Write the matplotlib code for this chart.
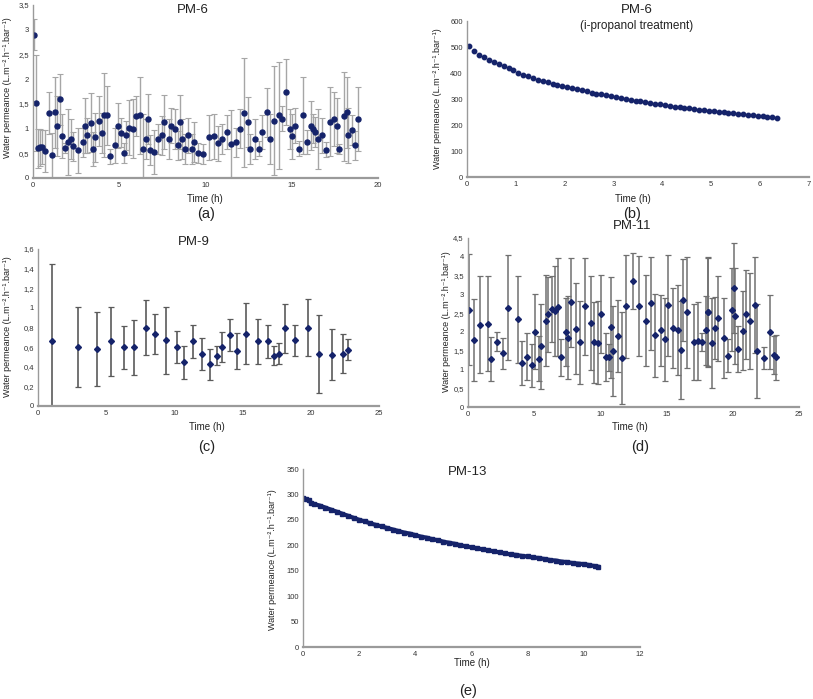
import matplotlib

matplotlib.use("Agg")
import matplotlib.pyplot as plt
from matplotlib.ticker import FuncFormatter, MultipleLocator

plt.rcParams["font.family"] = ["Liberation Sans", "DejaVu Sans"]

W, H = 813, 699
NAVY = "#15236a"
YLAB = "Water permeance (L.m\u207b\u00b2.h\u207b\u00b9.bar\u207b\u00b9)"

# (a) PM-6
a_t = [0.06, 0.17, 0.31, 0.43, 0.52, 0.72, 0.95, 1.12, 1.26, 1.39, 1.57, 1.66, 1.86, 2.03,
       2.22, 2.34, 2.61, 2.92, 3.03, 3.15, 3.34, 3.48, 3.59, 3.83, 4.0, 4.14, 4.29, 4.44,
       4.73, 4.95, 5.08, 5.26, 5.39, 5.58, 5.82, 5.99, 6.22, 6.36, 6.53, 6.67, 6.8, 7.0,
       7.23, 7.48, 7.59, 7.88, 8.02, 8.25, 8.39, 8.5, 8.66, 8.79, 8.97, 9.2, 9.35, 9.58,
       9.84, 10.2, 10.51, 10.74, 10.98, 11.23, 11.48, 11.75, 12.02, 12.23, 12.46, 12.6,
       12.87, 13.08, 13.29, 13.58, 13.76, 13.99, 14.26, 14.45, 14.65, 14.88, 15.03, 15.2,
       15.44, 15.63, 15.9, 16.12, 16.23, 16.35, 16.52, 16.77, 16.97, 17.22, 17.45, 17.64,
       17.72, 18.01, 18.18, 18.28, 18.51, 18.67, 18.86]
a_p = [2.9, 1.52, 0.6, 0.62, 0.63, 0.55, 1.32, 0.46, 1.33, 1.05, 1.59, 0.85, 0.61, 0.73,
       0.79, 0.64, 0.56, 0.72, 1.06, 0.86, 1.12, 0.59, 0.82, 1.15, 0.91, 1.27, 1.27, 0.44,
       0.66, 1.06, 0.92, 0.5, 0.86, 1.02, 1.0, 1.25, 1.27, 0.59, 0.79, 1.19, 0.57, 0.53,
       0.79, 0.86, 1.13, 0.79, 1.06, 0.99, 0.66, 1.13, 0.79, 0.59, 0.86, 0.59, 0.73, 0.5,
       0.48, 0.82, 0.84, 0.7, 0.79, 0.93, 0.69, 0.72, 1.0, 1.32, 1.13, 0.59, 0.79, 0.59,
       0.93, 1.33, 0.79, 1.16, 1.27, 1.2, 1.74, 0.99, 0.84, 1.06, 0.59, 1.27, 0.73, 1.06,
       1.0, 0.93, 0.79, 0.86, 0.57, 1.14, 1.2, 1.06, 0.59, 1.25, 1.33, 0.86, 0.97, 0.66, 1.2]
a_e = [0.32, 0.97, 0.39, 0.37, 0.35, 0.42, 0.42, 0.46, 0.72, 0.6, 0.52, 0.45, 0.1, 0.67,
       0.4, 0.3, 0.45, 0.3, 0.55, 0.35, 0.6, 0.35, 0.5, 0.5, 0.4, 0.85, 0.6, 0.15, 0.35,
       0.45, 0.3, 0.2, 0.3, 0.55, 0.6, 0.4, 0.78, 0.7, 0.4, 0.5, 0.3, 0.45, 0.3, 0.4, 0.55,
       0.4, 0.35, 0.4, 0.3, 0.55, 0.4, 0.3, 0.35, 0.3, 0.4, 0.2, 0.2, 0.45, 0.45, 0.35, 0.3,
       0.35, 0.68, 0.3, 0.4, 1.1, 0.5, 0.3, 0.4, 0.15, 0.35, 0.5, 0.5, 1.1, 1.08, 0.25,
       0.66, 0.4, 0.45, 0.35, 0.15, 0.78, 0.25, 0.5, 0.3, 0.3, 0.6, 0.35, 0.15, 0.7, 0.55,
       0.55, 0.1, 0.9, 0.72, 0.55, 0.3, 0.3, 0.65]

# (b) PM-6 after i-propanol treatment
b_t = [0.05, 0.15, 0.25, 0.35, 0.45, 0.55, 0.65, 0.75, 0.85, 0.95, 1.05, 1.15, 1.25, 1.35,
       1.45, 1.55, 1.65, 1.75, 1.85, 1.95, 2.05, 2.15, 2.25, 2.35, 2.45, 2.55, 2.65, 2.75,
       2.85, 2.95, 3.05, 3.15, 3.25, 3.35, 3.45, 3.55, 3.65, 3.75, 3.85, 3.95, 4.05, 4.15,
       4.25, 4.35, 4.45, 4.55, 4.65, 4.75, 4.85, 4.95, 5.05, 5.15, 5.25, 5.35, 5.45, 5.55,
       5.65, 5.75, 5.85, 5.95, 6.05, 6.15, 6.25, 6.35]
b_p = [505, 484, 471, 461, 451, 443, 435, 427, 419, 410, 400, 394, 387, 381, 375, 369, 364,
       359, 354, 350, 346, 341, 337, 333, 329, 325, 321, 318, 314, 310, 307, 304, 300, 297,
       294, 291, 288, 285, 282, 279, 276, 273, 270, 268, 266, 264, 262, 259, 257, 255, 253,
       251, 249, 247, 245, 243, 241, 240, 238, 236, 234, 232, 230, 228]

# (c) PM-9
c_t = [1.03, 2.95, 4.32, 5.37, 6.27, 7.06, 7.91, 8.57, 9.35, 10.18, 10.69, 11.35, 11.99,
       12.62, 13.09, 13.48, 14.04, 14.6, 15.26, 16.11, 16.85, 17.31, 17.7, 18.11, 18.85,
       19.82, 20.6, 21.56, 22.39, 22.75]
c_p = [0.66, 0.60, 0.58, 0.66, 0.60, 0.60, 0.80, 0.735, 0.67, 0.60, 0.446, 0.66, 0.53,
       0.425, 0.514, 0.60, 0.725, 0.56, 0.735, 0.66, 0.66, 0.514, 0.534, 0.79, 0.67, 0.80,
       0.53, 0.52, 0.534, 0.575]
c_e = [0.79, 0.41, 0.38, 0.35, 0.22, 0.28, 0.28, 0.2, 0.34, 0.16, 0.17, 0.17, 0.16, 0.16,
       0.1, 0.15, 0.16, 0.18, 0.31, 0.23, 0.17, 0.1, 0.11, 0.25, 0.16, 0.29, 0.40, 0.26,
       0.2, 0.11]

# (d) PM-11
d_t = [0.08, 0.45, 0.93, 1.48, 1.71, 2.16, 2.64, 3.02, 3.77, 4.1, 4.47, 4.85, 5.08, 5.35,
       5.55, 5.88, 6.06, 6.31, 6.58, 6.83, 7.06, 7.39, 7.56, 7.76, 8.19, 8.49, 8.87, 9.27,
       9.55, 9.85, 10.08, 10.43, 10.68, 10.8, 10.95, 11.31, 11.61, 11.93, 12.46, 12.89,
       13.42, 13.84, 14.15, 14.55, 14.87, 15.1, 15.48, 15.88, 16.08, 16.26, 16.51, 17.06,
       17.34, 17.66, 17.94, 18.09, 18.15, 18.42, 18.62, 18.9, 19.3, 19.62, 19.95, 20.1,
       20.2, 20.4, 20.75, 21.0, 21.31, 21.66, 21.83, 22.36, 22.84, 23.09, 23.24]
d_p = [2.59, 1.78, 2.19, 2.22, 1.28, 1.74, 1.43, 2.64, 2.34, 1.18, 1.34, 1.11, 2.0, 1.28,
       1.62, 2.3, 2.47, 2.6, 2.56, 2.66, 1.32, 2.0, 1.85, 2.79, 2.09, 1.72, 2.68, 2.24, 1.72,
       1.71, 2.48, 1.33, 1.32, 2.12, 1.49, 1.89, 1.31, 2.68, 3.35, 2.69, 2.3, 2.76, 1.91,
       2.04, 1.8, 2.71, 2.1, 2.06, 1.52, 2.86, 2.52, 1.73, 1.76, 1.73, 2.04, 2.54, 2.52,
       1.71, 2.1, 2.36, 1.83, 1.37, 2.59, 3.16, 2.42, 1.54, 2.03, 2.47, 2.3, 2.72, 1.49, 1.3,
       1.99, 1.38, 1.32]
d_e = [1.48, 1.09, 1.29, 1.27, 0.59, 0.25, 0.42, 1.4, 1.16, 0.59, 0.63, 0.58, 1.0, 0.6,
       1.13, 1.21, 1.0, 0.88, 1.2, 1.3, 0.5, 0.9, 1.1, 1.19, 1.2, 1.1, 1.29, 1.25, 1.08, 1.1,
       1.03, 0.63, 0.35, 1.35, 1.2, 0.97, 1.22, 1.37, 0.75, 1.33, 1.21, 1.24, 1.1, 0.95, 1.1,
       1.34, 1.07, 1.2, 1.3, 1.09, 1.47, 1.0, 1.04, 0.25, 0.92, 1.46, 1.46, 1.2, 0.83, 1.13,
       1.07, 0.44, 1.11, 1.2, 1.27, 0.62, 1.05, 1.19, 1.28, 1.27, 1.24, 0.3, 0.99, 0.5, 0.6]

# (e) PM-13
e_t = [0.0, 0.1, 0.2, 0.3, 0.4, 0.6, 0.8, 1.0, 1.2, 1.4, 1.6, 1.8, 2.0, 2.2, 2.4, 2.6, 2.8,
       3.0, 3.2, 3.4, 3.6, 3.8, 4.0, 4.2, 4.4, 4.6, 4.8, 5.0, 5.2, 5.4, 5.6, 5.8, 6.0, 6.2,
       6.4, 6.6, 6.8, 7.0, 7.2, 7.4, 7.6, 7.8, 8.0, 8.2, 8.4, 8.6, 8.8, 9.0, 9.2, 9.4, 9.6,
       9.8, 10.0, 10.2, 10.4, 10.5]
e_p = [293, 291, 289, 283, 281, 278, 274, 270, 266, 262, 258, 254, 250, 247, 243, 240, 237,
       234, 231, 228, 225, 223, 220, 217, 215, 212, 210, 207, 205, 203, 200, 198, 196, 194,
       192, 190, 188, 186, 184, 182, 181, 179, 178, 176, 175, 173, 171, 170, 168, 167, 165,
       164, 163, 161, 159, 158]


def comma(v, _pos):
    s = f"{v:g}"
    return s.replace(".", ",")


def make_axes(fig, left, right, top, bottom, xmax, xstep, ymax, ystep, comma_y=False):
    ax = fig.add_axes([left / W, 1 - bottom / H, (right - left) / W, (bottom - top) / H])
    ax.set_xlim(0, xmax)
    ax.set_ylim(0, ymax)
    ax.xaxis.set_major_locator(MultipleLocator(xstep))
    ax.yaxis.set_major_locator(MultipleLocator(ystep))
    if comma_y:
        ax.yaxis.set_major_formatter(FuncFormatter(comma))
    for s in ("top", "right"):
        ax.spines[s].set_visible(False)
    ax.spines["left"].set_color("#9a9a9a")
    ax.spines["left"].set_linewidth(1.0)
    ax.spines["bottom"].set_color("#9a9a9a")
    ax.spines["bottom"].set_linewidth(1.6)
    ax.tick_params(length=0, labelsize=5.5, colors="#333333", pad=3)
    ax.patch.set_alpha(0)
    return ax


def txt(fig, x, y, s, size, **kw):
    fig.text(x / W, 1 - y / H, s, fontsize=size, ha="center", va="center",
             color="#222222", **kw)


fig = plt.figure(figsize=(W / 100, H / 100), dpi=100)

# (a)
ax = make_axes(fig, 33, 378, 5, 178, 20, 5, 3.5, 0.5, comma_y=True)
ax.errorbar(a_t, a_p, yerr=a_e, fmt="o", ms=3.6, color=NAVY, ecolor="#a6a6a6",
            elinewidth=1.0, capsize=2, capthick=0.8)
txt(fig, 193, 10, "PM-6", 9.5)
txt(fig, 205, 199, "Time (h)", 7)
txt(fig, 8, 88, YLAB, 6.5, rotation=90)
txt(fig, 206, 214, "(a)", 10.5)

# (b)
ax = make_axes(fig, 467, 809, 21, 177, 7, 1, 600, 100)
ax.plot(b_t, b_p, "o", ms=3.2, color=NAVY)
txt(fig, 637, 10, "PM-6", 9.5)
txt(fig, 637, 26, "(i-propanol treatment)", 8.5)
txt(fig, 633, 199, "Time (h)", 7)
txt(fig, 437, 99, YLAB, 6.5, rotation=90)
txt(fig, 632, 214, "(b)", 10.5)

# (c)
ax = make_axes(fig, 38, 379, 249, 406, 25, 5, 1.6, 0.2, comma_y=True)
ax.errorbar(c_t, c_p, yerr=c_e, fmt="D", ms=3.0, color=NAVY, ecolor="#5a5a5a",
            elinewidth=1.2, capsize=2, capthick=0.9)
txt(fig, 194, 242, "PM-9", 9.5)
txt(fig, 207, 427, "Time (h)", 7)
txt(fig, 8, 327, YLAB, 6.5, rotation=90)
txt(fig, 207, 447, "(c)", 10.5)

# (d)
ax = make_axes(fig, 468, 799, 238, 407, 25, 5, 4.5, 0.5, comma_y=True)
ax.errorbar(d_t, d_p, yerr=d_e, fmt="D", ms=3.0, color=NAVY, ecolor="#707070",
            elinewidth=1.1, capsize=2, capthick=0.9)
txt(fig, 632, 226, "PM-11", 9.5)
txt(fig, 630, 427, "Time (h)", 7)
txt(fig, 446, 322, YLAB, 6.5, rotation=90)
txt(fig, 640, 447, "(d)", 10.5)

# (e)
ax = make_axes(fig, 303, 640, 469, 647, 12, 2, 350, 50)
ax.plot(e_t, e_p, "-s", lw=3.0, ms=2.8, color=NAVY)
txt(fig, 468, 472, "PM-13", 9.5)
txt(fig, 472, 663, "Time (h)", 7)
txt(fig, 272, 560, YLAB, 6.5, rotation=90)
txt(fig, 468, 691, "(e)", 10.5)

fig.savefig("out.png", dpi=100)
